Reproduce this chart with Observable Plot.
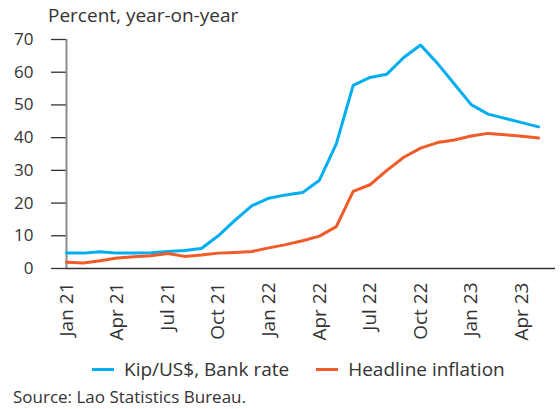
<!DOCTYPE html>
<html>
<head>
<meta charset="utf-8">
<script src="https://cdn.jsdelivr.net/npm/d3@7"></script>
<script src="https://cdn.jsdelivr.net/npm/@observablehq/plot@0.6"></script>
<style>
  html, body { margin: 0; padding: 0; background: #fff; }
  #wrap { position: relative; width: 560px; height: 409px; font-family: "Open Sans", Lato, sans-serif; color: #333; }
  #title { position: absolute; left: 48px; top: 2px; font-size: 19px; }
  #chart { position: absolute; left: 0; top: 0; }
  #legend { position: absolute; left: 92px; top: 356px; font-size: 19px; display: flex; align-items: center; white-space: nowrap; }
  .sw { display: inline-block; width: 22px; height: 3px; margin-right: 10px; }
  .item { display: flex; align-items: center; margin-right: 27px; }
  #source { position: absolute; left: 13px; top: 385px; font-size: 17px; }
</style>
</head>
<body>
<div id="wrap">
  <div id="chart"></div>
  <div id="title">Percent, year-on-year</div>
  <div id="legend"></div>
  <div id="source">Source: Lao Statistics Bureau.</div>
</div>
<script>
const months = ["Jan 21","Feb 21","Mar 21","Apr 21","May 21","Jun 21","Jul 21","Aug 21","Sep 21","Oct 21","Nov 21","Dec 21",
                "Jan 22","Feb 22","Mar 22","Apr 22","May 22","Jun 22","Jul 22","Aug 22","Sep 22","Oct 22","Nov 22","Dec 22",
                "Jan 23","Feb 23","Mar 23","Apr 23","May 23"];
const kipUsd = [4.7, 4.7, 5.1, 4.7, 4.7, 4.8, 5.2, 5.5, 6.1, 10.0, 14.8, 19.2, 21.5, 22.5, 23.2, 27.0, 38.1, 56.0,
                58.4, 59.4, 64.5, 68.3, 62.7, 56.4, 50.1, 47.2, 45.9, 44.6, 43.3];
const headline = [1.9, 1.7, 2.4, 3.2, 3.6, 3.9, 4.6, 3.7, 4.1, 4.7, 4.9, 5.2, 6.3, 7.3, 8.5, 9.9, 12.8, 23.6,
                  25.6, 30.0, 34.0, 36.8, 38.5, 39.3, 40.5, 41.3, 40.9, 40.4, 39.9];
const seriesNames = ["Kip/US$, Bank rate", "Headline inflation"];
const seriesColors = ["#00aeef", "#f15a29"];
const yTicks = [0, 10, 20, 30, 40, 50, 60, 70];
const xTickLabels = ["Jan 21","Apr 21","Jul 21","Oct 21","Jan 22","Apr 22","Jul 22","Oct 22","Jan 23","Apr 23"];

const rows = months.map((m, i) => ({i, month: m, kip: kipUsd[i], infl: headline[i]}));
const xTicks = xTickLabels.map(l => months.indexOf(l));

const chart = Plot.plot({
  width: 560,
  height: 356,
  marginLeft: 66,
  marginRight: 5,
  marginTop: 39,
  marginBottom: 88,
  style: {fontFamily: "'Open Sans', Lato, sans-serif", fontSize: "17px", color: "#333", background: "transparent"},
  x: {domain: [0, months.length], axis: null},
  y: {domain: [0, 70], axis: null},
  marks: [
    Plot.axisY({ticks: yTicks, tickSize: 15, tickPadding: 18, label: null, tickFormat: d => String(d), strokeWidth: 1.3, fontSize: 17}),
    Plot.axisX({ticks: xTicks, tickFormat: i => months[i], tickSize: 0, tickPadding: 14, tickRotate: -90, label: null, fontSize: 19}),
    Plot.ruleX([0], {stroke: "#8c8c8c", strokeWidth: 2}),
    Plot.ruleY([0], {stroke: "#333", strokeWidth: 1.5}),
    Plot.lineY(rows, {x: "i", y: "kip", stroke: seriesColors[0], strokeWidth: 3}),
    Plot.lineY(rows, {x: "i", y: "infl", stroke: seriesColors[1], strokeWidth: 3})
  ]
});
document.getElementById("chart").appendChild(chart);

const legend = document.getElementById("legend");
seriesNames.forEach((n, k) => {
  const it = document.createElement("div");
  it.className = "item";
  const sw = document.createElement("span");
  sw.className = "sw";
  sw.style.background = seriesColors[k];
  it.appendChild(sw);
  it.appendChild(document.createTextNode(n));
  legend.appendChild(it);
});
</script>
</body>
</html>
